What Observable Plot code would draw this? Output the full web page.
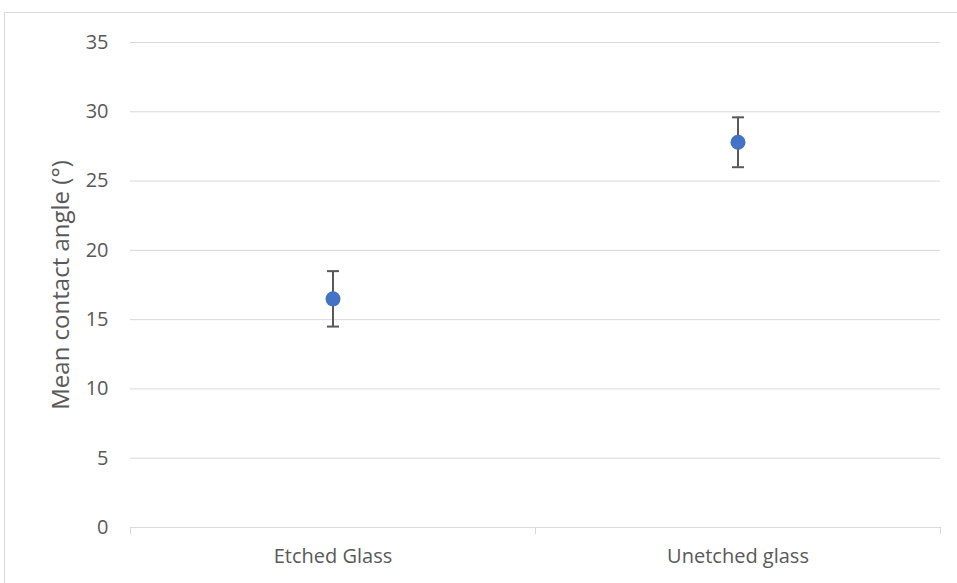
<!DOCTYPE html>
<html>
<head>
<meta charset="utf-8">
<script src="https://cdn.jsdelivr.net/npm/d3@7"></script>
<script src="https://cdn.jsdelivr.net/npm/@observablehq/plot@0.6"></script>
<style>
  html, body { margin: 0; padding: 0; background: #fff; overflow: hidden; }
  #wrap { position: relative; width: 957px; height: 583px; }
  #frame { position: absolute; left: 4px; top: 12px; width: 1000px; height: 1000px; border: 1px solid #d9d9d9; box-sizing: border-box; }
  #chart { position: absolute; left: 0; top: 0; }
</style>
</head>
<body>
<div id="wrap"><div id="frame"></div><div id="chart"></div></div>
<script>
const categories = ["Etched Glass", "Unetched glass"];
const means = [16.5, 27.8];
const errors = [2.0, 1.8];
const yTicks = [0, 5, 10, 15, 20, 25, 30, 35];
const yLabel = "Mean contact angle (°)";

const data = categories.map((c, i) => ({
  cat: c, pos: i + 0.5, mean: means[i], lo: means[i] - errors[i], hi: means[i] + errors[i]
}));

const capSymbol = {
  draw(ctx, size) {
    const w = Math.sqrt(size / Math.PI);
    ctx.moveTo(-w, 0);
    ctx.lineTo(w, 0);
  }
};

const font = "'Open Sans', sans-serif";
const grey = "#595959";

const chart = Plot.plot({
  width: 957,
  height: 583,
  marginLeft: 130,
  marginRight: 17,
  marginTop: 42,
  marginBottom: 56,
  style: { fontFamily: font, fontSize: "20px", color: grey, background: "transparent" },
  x: { type: "linear", domain: [0, categories.length], label: null },
  y: { domain: [0, 35], label: null },
  marks: [
    Plot.ruleY(yTicks, { stroke: "#d9d9d9", strokeWidth: 1 }),
    Plot.axisX(d3.range(categories.length + 1), { tickSize: 7, tickFormat: () => "", stroke: "#d9d9d9", strokeOpacity: 1, label: null }),
    Plot.axisX(data.map(d => d.pos), { tickSize: 0, tickPadding: 21, tickFormat: (d) => categories[Math.floor(d)], fill: grey, fontSize: 20, label: null }),
    Plot.axisY(yTicks, { tickSize: 0, tickPadding: 22, fill: grey, fontSize: 20, label: null }),
    Plot.text([yLabel], { frameAnchor: "left", textAnchor: "middle", dx: -69, rotate: -90, fill: grey, fontSize: 24 }),
    Plot.ruleX(data, { x: "pos", y1: "lo", y2: "hi", stroke: "#595959", strokeWidth: 2 }),
    Plot.dot(data, { x: "pos", y: "lo", r: 6, symbol: capSymbol, stroke: "#595959", strokeWidth: 2, fill: "none" }),
    Plot.dot(data, { x: "pos", y: "hi", r: 6, symbol: capSymbol, stroke: "#595959", strokeWidth: 2, fill: "none" }),
    Plot.dot(data, { x: "pos", y: "mean", r: 7.5, fill: "#4472c4", stroke: "none" })
  ]
});
document.getElementById("chart").appendChild(chart);
</script>
</body>
</html>
